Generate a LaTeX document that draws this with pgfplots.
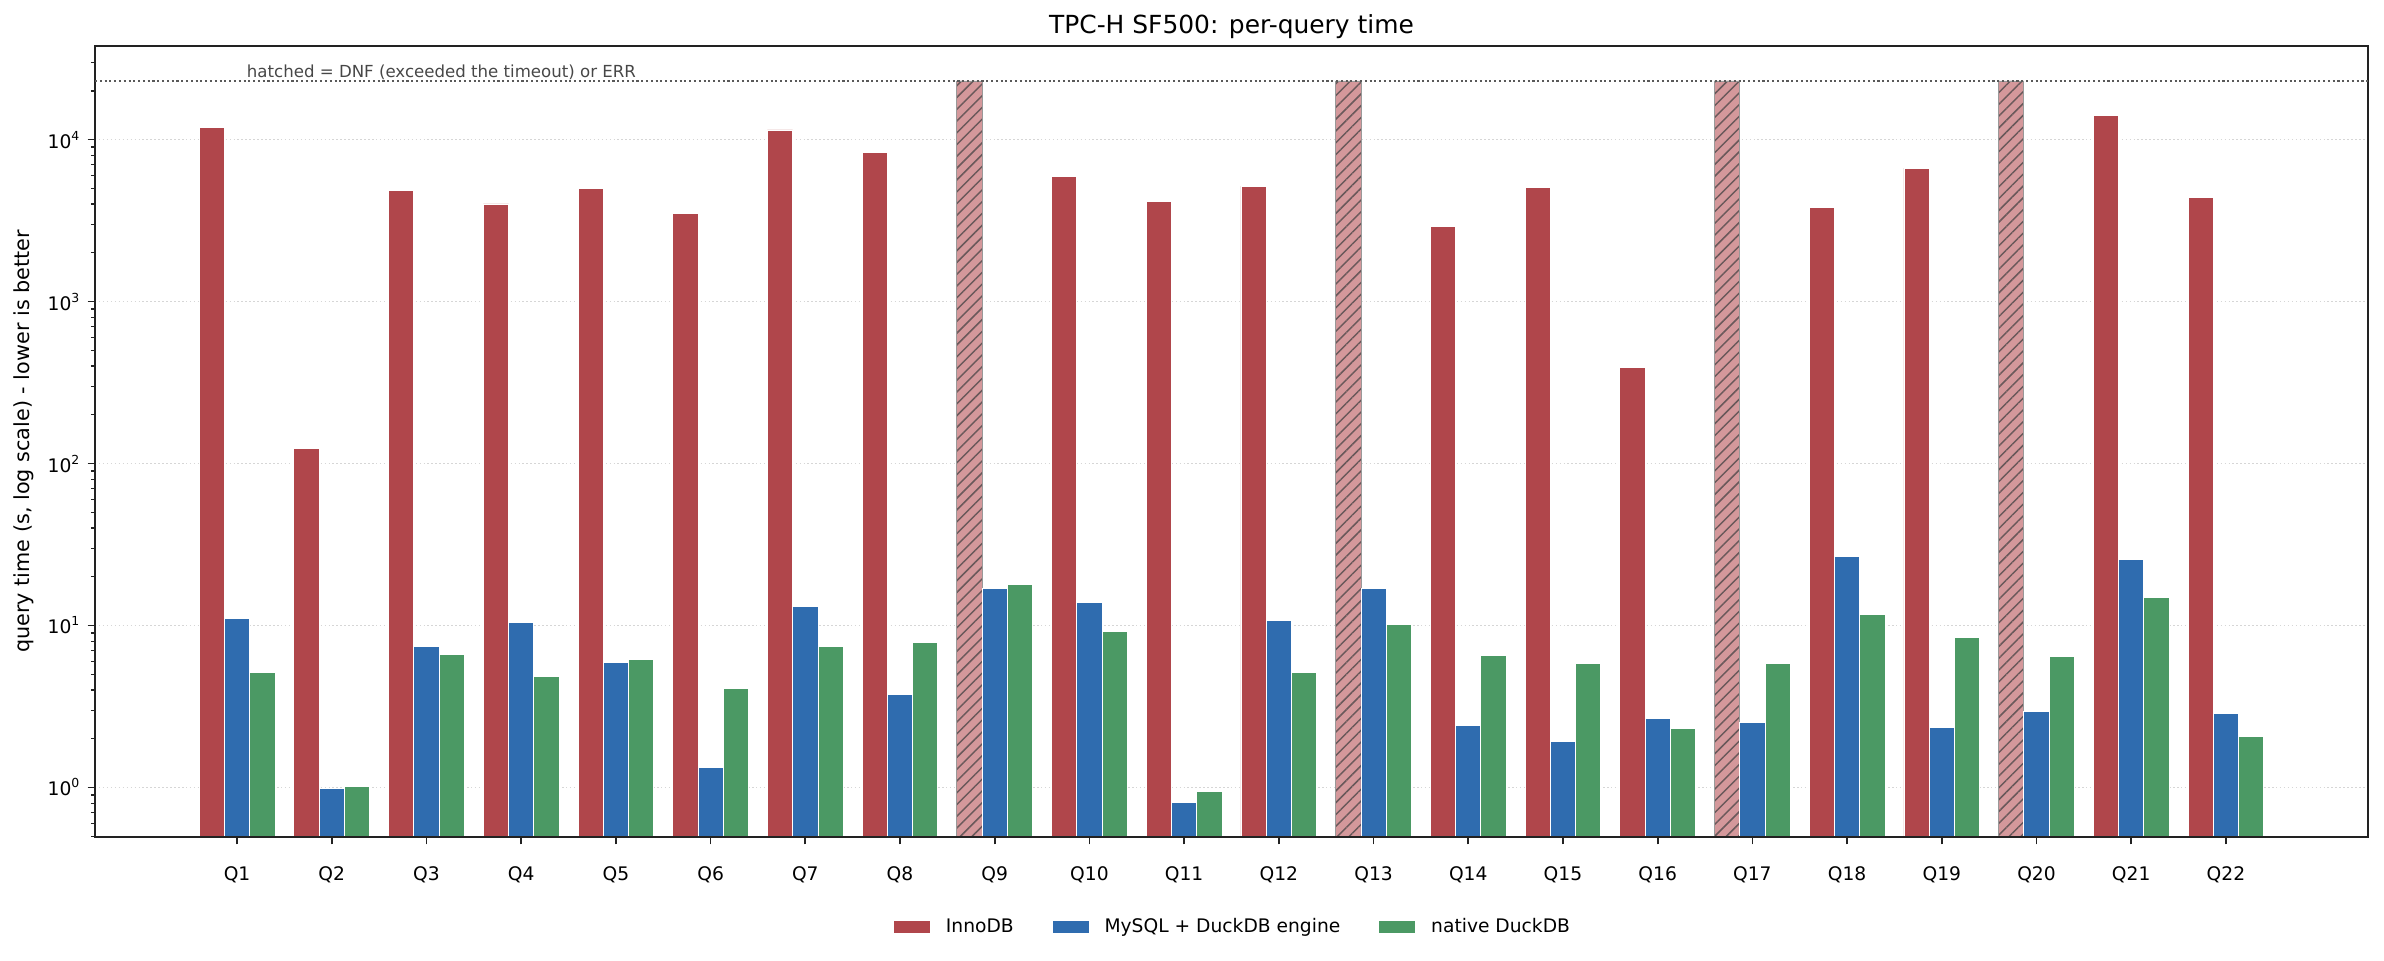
\documentclass[border=0pt]{standalone}
\usepackage{pgfplots}
\pgfplotsset{compat=1.18}
\usepackage{pgfplotstable}
\usepackage{fontspec}
\setmainfont{DejaVu Sans}
\usetikzlibrary{patterns.meta}
\definecolor{innored}{RGB}{176,70,75}
\definecolor{duckblue}{RGB}{47,108,175}
\definecolor{natgreen}{RGB}{75,153,100}
\definecolor{hatchfill}{RGB}{212,152,155}
\definecolor{hatchline}{RGB}{105,88,90}
\definecolor{spine}{RGB}{34,34,34}

\pgfplotstableread{
x val
0 11820
1 124
2 4875
3 4008
4 5019
5 3516
6 11480
7 8280
9 5888
10 4155
11 5166
13 2912
14 5093
15 393
17 3837
18 6660
20 14170
21 4405
}\innodb

\pgfplotstableread{
x val
8 23040
12 23040
16 23040
19 23040
}\dnf

\pgfplotstableread{
x val
0 11.05
1 0.985
2 7.41
3 10.43
4 5.92
5 1.327
6 13.15
7 3.75
8 16.96
9 13.94
10 0.810
11 10.73
12 16.96
13 2.406
14 1.92
15 2.665
16 2.513
17 26.8
18 2.355
19 2.95
20 25.6
21 2.865
}\mysqlduck

\pgfplotstableread{
x val
0 5.12
1 1.015
2 6.65
3 4.83
4 6.18
5 4.09
6 7.41
7 7.86
8 17.97
9 9.22
10 0.944
11 5.12
12 10.13
13 6.55
14 5.83
15 2.32
16 5.83
17 11.71
18 8.45
19 6.46
20 14.88
21 2.07
}\nativeduck

\pgfplotstableread{
x val
-1.5 23040
22.5 23040
}\timeout

\begin{document}
\begin{tikzpicture}
\path[use as bounding box] (-45.6bp,-59.04bp) rectangle (1098.72bp,401.76bp);
\begin{axis}[
  at={(0,0)}, anchor=south west,
  scale only axis, width=1091.04bp, height=379.8bp,
  clip mode=individual,
  ymode=log, log origin=infty,
  xmin=-1.5, xmax=22.5, ymin=0.4945, ymax=38000,
  xtick={0,...,21},
  xticklabels={Q1,Q2,Q3,Q4,Q5,Q6,Q7,Q8,Q9,Q10,Q11,Q12,Q13,Q14,Q15,Q16,Q17,Q18,Q19,Q20,Q21,Q22},
  ytick={1,10,100,1000,10000},
  yticklabels={10\textsuperscript{0},10\textsuperscript{1},10\textsuperscript{2},10\textsuperscript{3},10\textsuperscript{4}},
  minor ytick={0.5,0.6,0.7,0.8,0.9,2,3,4,5,6,7,8,9,20,30,40,50,60,70,80,90,200,300,400,500,600,700,800,900,2000,3000,4000,5000,6000,7000,8000,9000,20000,30000},
  tick align=outside, tick pos=left,
  major tick length=3.5bp, minor tick length=2bp,
  tick style={draw=spine, line width=0.8bp},
  minor tick style={draw=spine, line width=0.6bp},
  axis line style={draw=spine, line width=0.8bp},
  ymajorgrids,
  major grid style={draw=black!16, line width=0.7bp, dash pattern=on 0.7bp off 1.2bp},
  xticklabel style={font=\fontsize{9}{11}\selectfont, inner sep=0pt, yshift=-10.6bp},
  yticklabel style={font=\fontsize{9}{11}\selectfont, inner sep=0pt, xshift=-3.3bp},
  every axis title shift=0pt,
  title={TPC-H SF500: per-query time},
  title style={at={(0.5,1)}, anchor=base, yshift=6.1bp, font=\fontsize{12}{14}\selectfont},
  ylabel={query time (s, log scale) - lower is better},
  every axis y label/.style={at={(axis description cs:0,0.5)}, rotate=90, anchor=center, yshift=34.3bp, font=\fontsize{10}{12}\selectfont},
  legend columns=3,
  legend style={at={(0.5,-0.1137)}, anchor=center, draw=none, fill=none,
    font=\fontsize{9}{11}\selectfont, nodes={inner sep=0pt},
    /tikz/every odd column/.append style={column sep=7.2bp},
    /tikz/every even column/.append style={column sep=18.2bp}},
]
\addplot[ybar, bar width=0.26667, bar shift=-0.26667, fill=innored, draw=white, line width=0.4bp, forget plot] table[x=x,y=val]{\innodb};
\addplot[ybar, bar width=0.26667, bar shift=-0.26667, fill=hatchfill, draw=black!40, line width=0.4bp,
  postaction={pattern={Lines[angle=45,distance=4bp,line width=0.7bp]}, pattern color=hatchline}, forget plot] table[x=x,y=val]{\dnf};
\addplot[ybar, bar width=0.26667, bar shift=0, fill=duckblue, draw=white, line width=0.4bp, forget plot] table[x=x,y=val]{\mysqlduck};
\addplot[ybar, bar width=0.26667, bar shift=0.26667, fill=natgreen, draw=white, line width=0.4bp, forget plot] table[x=x,y=val]{\nativeduck};
\addplot[draw=black!65, line width=1bp, dash pattern=on 1bp off 1.3bp, forget plot] table[x=x,y=val]{\timeout};
\draw[draw=spine, line width=0.8bp] (rel axis cs:0,0) -- (rel axis cs:1,0);
\node[anchor=base west, inner sep=0pt, text=black!72, font=\fontsize{8}{10}\selectfont, yshift=1.5bp] at (axis cs:0.1,23040) {hatched = DNF (exceeded the timeout) or ERR};
\addlegendimage{legend image code/.code={\draw[fill=innored,draw=white,line width=0.4bp] (0bp,-3.1bp) rectangle (17.8bp,3.1bp);}}
\addlegendentry{InnoDB}
\addlegendimage{legend image code/.code={\draw[fill=duckblue,draw=white,line width=0.4bp] (0bp,-3.1bp) rectangle (17.8bp,3.1bp);}}
\addlegendentry{MySQL + DuckDB engine}
\addlegendimage{legend image code/.code={\draw[fill=natgreen,draw=white,line width=0.4bp] (0bp,-3.1bp) rectangle (17.8bp,3.1bp);}}
\addlegendentry{native DuckDB}
\end{axis}
\end{tikzpicture}
\end{document}
